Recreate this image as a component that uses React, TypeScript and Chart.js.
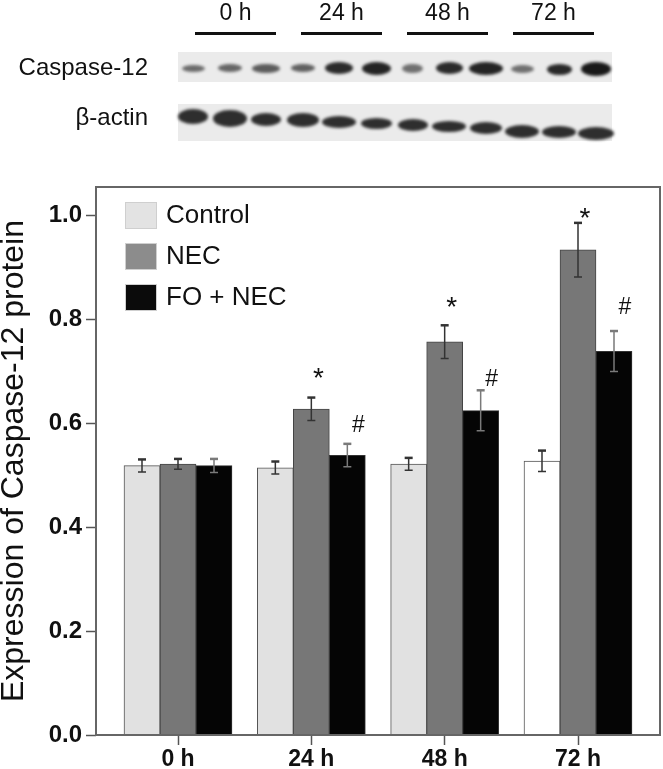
import React, { useEffect, useRef } from 'react';
import { Chart, registerables } from 'chart.js';

Chart.register(...registerables);

// ---------- data ----------
const timePoints = ['0 h', '24 h', '48 h', '72 h'];
const seriesNames = ['Control', 'NEC', 'FO + NEC'];
const controlValues = [0.518, 0.514, 0.521, 0.527];
const necValues = [0.521, 0.627, 0.756, 0.933];
const foNecValues = [0.518, 0.538, 0.624, 0.738];
const controlErrors = [0.012, 0.012, 0.012, 0.02];
const necErrors = [0.01, 0.022, 0.032, 0.052];
const foNecErrors = [0.013, 0.022, 0.039, 0.039];
const necStarAt: (number | null)[] = [null, 0.696, 0.833, 1.004];
const foNecHashAt: (number | null)[] = [null, 0.6, 0.688, 0.827];
const yTickValues = [0, 0.2, 0.4, 0.6, 0.8, 1.0];

// western blot band readings (12 lanes: 3 per time point)
const caspaseBandWidth = [23, 24, 28, 24, 28, 29, 21, 27, 34, 23, 25, 30];
const caspaseBandHeight = [7, 8, 9, 8, 12, 13, 9, 12, 13, 8, 11, 14];
const caspaseBandShade = [0.58, 0.6, 0.64, 0.62, 0.83, 0.86, 0.56, 0.83, 0.86, 0.56, 0.84, 0.9];
const actinBandWidth = [30, 34, 30, 32, 34, 31, 30, 34, 32, 34, 34, 36];
const actinBandHeight = [15, 17, 13, 14, 12, 11, 12, 11, 12, 13, 12, 13];
const actinBandDrift = [0, 2, 3, 4, 6, 7, 9, 10, 12, 15, 16, 17];

// ---------- styles ----------
const FONT = '"Liberation Sans", Arial, Helvetica, sans-serif';
const controlColors = ['#e1e1e1', '#e1e1e1', '#e1e1e1', '#ffffff'];
const necColor = '#777777';
const foNecColor = '#050505';
const legendColors = ['#e3e3e3', '#8c8c8c', '#0b0b0b'];
const errorColors = ['#333333', '#333333', '#7a7a7a'];

const valueSets = [controlValues, necValues, foNecValues];
const errorSets = [controlErrors, necErrors, foNecErrors];

function drawGlyph(ctx: CanvasRenderingContext2D, text: string, x: number, cy: number) {
  const m = ctx.measureText(text);
  const a = m.actualBoundingBoxAscent;
  const d = m.actualBoundingBoxDescent;
  ctx.textBaseline = 'alphabetic';
  ctx.textAlign = 'center';
  ctx.fillText(text, x, cy + (a - d) / 2);
}

const overlayPlugin = {
  id: 'overlay',
  afterDatasetsDraw(chart: any) {
    const { ctx, chartArea, scales } = chart;
    const y = scales.y;
    ctx.save();
    // error bars
    errorSets.forEach((errs, di) => {
      const meta = chart.getDatasetMeta(di);
      meta.data.forEach((bar: any, i: number) => {
        const v = valueSets[di][i];
        const top = y.getPixelForValue(v + errs[i]);
        const bot = y.getPixelForValue(v - errs[i]);
        ctx.strokeStyle = errorColors[di];
        ctx.lineWidth = 1.5;
        ctx.beginPath();
        ctx.moveTo(bar.x, top);
        ctx.lineTo(bar.x, bot);
        ctx.moveTo(bar.x - 4, bot);
        ctx.lineTo(bar.x + 4, bot);
        ctx.stroke();
        ctx.lineWidth = 2.5;
        ctx.beginPath();
        ctx.moveTo(bar.x - 4, top);
        ctx.lineTo(bar.x + 4, top);
        ctx.stroke();
      });
    });
    // significance marks
    ctx.fillStyle = '#111';
    const necMeta = chart.getDatasetMeta(1);
    const foMeta = chart.getDatasetMeta(2);
    necStarAt.forEach((v, i) => {
      if (v == null) return;
      ctx.font = `28px ${FONT}`;
      drawGlyph(ctx, '*', necMeta.data[i].x + 7, y.getPixelForValue(v));
    });
    foNecHashAt.forEach((v, i) => {
      if (v == null) return;
      ctx.font = `23px ${FONT}`;
      drawGlyph(ctx, '#', foMeta.data[i].x + 11, y.getPixelForValue(v));
    });
    // frame
    ctx.strokeStyle = '#666';
    ctx.lineWidth = 2;
    ctx.strokeRect(chartArea.left, chartArea.top, chartArea.right - chartArea.left, chartArea.bottom - chartArea.top);
    // legend
    const lx = chartArea.left + 29;
    seriesNames.forEach((name, k) => {
      const top = chartArea.top + 15 + k * 41;
      ctx.fillStyle = legendColors[k];
      ctx.fillRect(lx, top, 32, 27);
      ctx.strokeStyle = '#cfcfcf';
      ctx.lineWidth = 1;
      ctx.strokeRect(lx + 0.5, top + 0.5, 31, 26);
      ctx.fillStyle = '#111';
      ctx.font = `26px ${FONT}`;
      ctx.textAlign = 'left';
      ctx.textBaseline = 'middle';
      ctx.fillText(name, lx + 41, top + 14);
    });
    ctx.restore();
  },
};

function ChartCanvas() {
  const ref = useRef<HTMLCanvasElement | null>(null);
  useEffect(() => {
    if (!ref.current) return;
    const mk = (vals: number[]) => vals.map((v, i) => ({ x: i, y: v }));
    const chart = new Chart(ref.current, {
      type: 'bar',
      data: {
        datasets: [
          { label: seriesNames[0], data: mk(controlValues), backgroundColor: controlColors, borderColor: '#555', borderWidth: 1, barThickness: 36 },
          { label: seriesNames[1], data: mk(necValues), backgroundColor: necColor, borderColor: '#444', borderWidth: 1, barThickness: 36 },
          { label: seriesNames[2], data: mk(foNecValues), backgroundColor: foNecColor, borderColor: '#333', borderWidth: 1, barThickness: 36 },
        ],
      },
      options: {
        responsive: false,
        animation: false,
        devicePixelRatio: 1,
        layout: { padding: { top: 187, right: 3, bottom: 0, left: 0 } },
        plugins: { legend: { display: false }, tooltip: { enabled: false } },
        scales: {
          x: {
            type: 'linear',
            min: -0.615,
            max: 3.615,
            offset: false,
            afterFit: (s: any) => { s.height = 34; },
            afterBuildTicks: (s: any) => { s.ticks = timePoints.map((_, i) => ({ value: i })); },
            grid: { offset: false, drawOnChartArea: false, drawTicks: true, tickLength: 10, color: '#555', tickWidth: 1.5 },
            border: { display: false },
            ticks: {
              padding: 1,
              color: '#111',
              font: { family: FONT, size: 23, weight: 'bold' },
              callback: (v: any) => timePoints[Math.round(Number(v))] ?? '',
              maxRotation: 0,
              autoSkip: false,
            },
          },
          y: {
            type: 'linear',
            min: 0,
            max: 1.054,
            afterFit: (s: any) => { s.width = 96; },
            afterBuildTicks: (s: any) => { s.ticks = yTickValues.map((v) => ({ value: v })); },
            grid: { drawOnChartArea: false, drawTicks: true, tickLength: 10, color: '#555', tickWidth: 1.5 },
            border: { display: false },
            ticks: {
              padding: 4,
              color: '#111',
              font: { family: FONT, size: 24, weight: 'bold' },
              callback: (v: any) => Number(v).toFixed(1),
            },
            title: {
              display: true,
              text: 'Expression of Caspase-12 protein',
              color: '#111',
              font: { family: FONT, size: 32, lineHeight: 0.8 },
              padding: { top: 1, bottom: 0 },
            },
          },
        },
      } as any,
      plugins: [overlayPlugin],
    });
    return () => chart.destroy();
  }, []);
  return <canvas ref={ref} width={663} height={769} style={{ position: 'absolute', left: 0, top: 0, width: 663, height: 769 }} />;
}

function Blot() {
  const laneX = (i: number) => 193 + i * 36.6;
  const groupCenter = (g: number) => 235.5 + g * 106;
  const bandStyle = (cx: number, cy: number, w: number, h: number, shade: number): React.CSSProperties => {
    const g = Math.round(255 * (1 - shade));
    return {
      position: 'absolute',
      left: cx - w / 2,
      top: cy - h / 2,
      width: w,
      height: h,
      borderRadius: '50%',
      background: `rgb(${g},${g},${g})`,
      filter: 'blur(1.5px)',
    };
  };
  return (
    <div style={{ position: 'absolute', left: 0, top: 0, width: 663, height: 160, fontFamily: FONT, color: '#111' }}>
      {timePoints.map((t, g) => (
        <React.Fragment key={t}>
          <div style={{ position: 'absolute', left: groupCenter(g) - 50, top: -1, width: 100, textAlign: 'center', fontSize: 23, lineHeight: '27px' }}>{t}</div>
          <div style={{ position: 'absolute', left: groupCenter(g) - 40.5, top: 32, width: 81, height: 3, background: '#111' }} />
        </React.Fragment>
      ))}
      <div style={{ position: 'absolute', left: 0, width: 148, top: 52, textAlign: 'right', fontSize: 24, lineHeight: '30px' }}>Caspase-12</div>
      <div style={{ position: 'absolute', left: 0, width: 148, top: 102, textAlign: 'right', fontSize: 24, lineHeight: '30px' }}>β-actin</div>
      <div style={{ position: 'absolute', left: 178, top: 52, width: 434, height: 30, background: '#ebebeb' }} />
      <div style={{ position: 'absolute', left: 178, top: 104, width: 434, height: 37, background: '#ebebeb' }} />
      {caspaseBandWidth.map((w, i) => (
        <div key={'c' + i} style={bandStyle(laneX(i), 68 + (i > 8 ? 1 : 0), w, caspaseBandHeight[i], caspaseBandShade[i])} />
      ))}
      {actinBandWidth.map((w, i) => (
        <div key={'a' + i} style={bandStyle(laneX(i), 116 + actinBandDrift[i], w, actinBandHeight[i], 0.82)} />
      ))}
    </div>
  );
}

export default function App() {
  return (
    <div style={{ position: 'absolute', left: 0, top: 0, width: 663, height: 769, background: '#fff', overflow: 'hidden' }}>
      <ChartCanvas />
      <Blot />
    </div>
  );
}
